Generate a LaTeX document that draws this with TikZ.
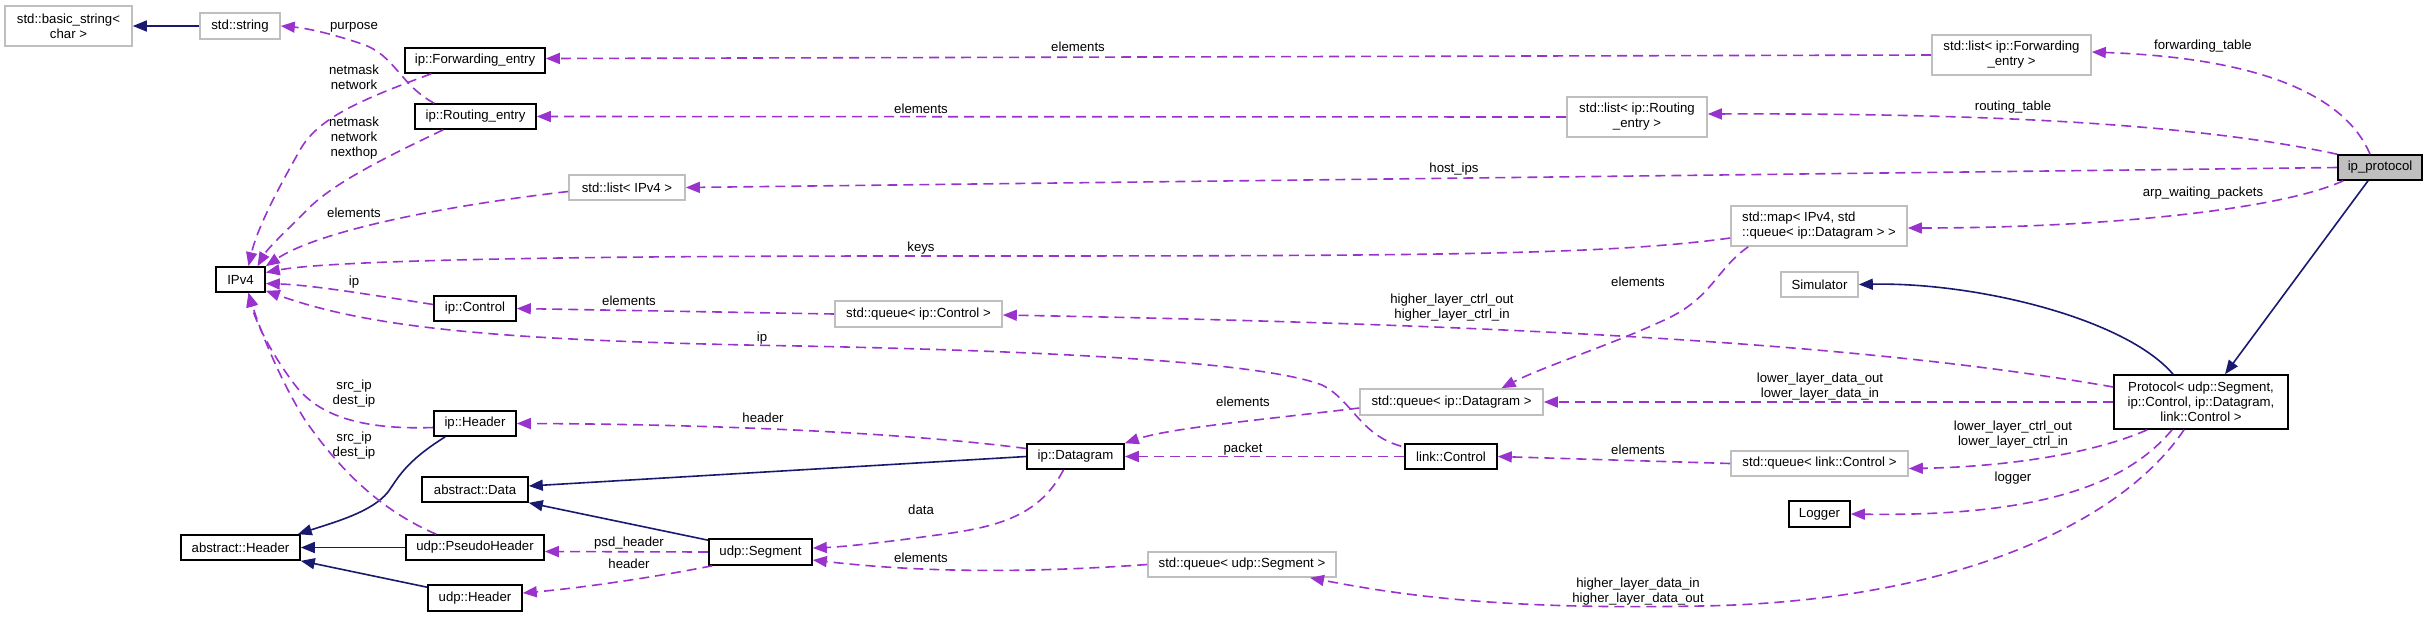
\documentclass[tikz,border=0pt]{standalone}
\usepackage{fontspec}
\setmainfont{Liberation Sans}
\usetikzlibrary{arrows.meta,calc}
\definecolor{edgep}{HTML}{9A32CD}
\definecolor{navyc}{HTML}{191970}
\definecolor{boxg}{HTML}{BFBFBF}
\definecolor{fillg}{HTML}{BFBFBF}
\newcommand\dfont{\fontsize{6.6}{7.5}\selectfont}
\begin{document}
\begin{tikzpicture}[x=0.5pt,y=-0.5pt,
 box/.style={draw=black,line width=0.8pt,fill=white,inner sep=0pt,font=\dfont,align=center},
 gbox/.style={box,draw=boxg},
 col/.style={color=edgep,line width=0.8pt,dash pattern=on 5pt off 3pt,-{Triangle[length=7pt,width=5.5pt]}},
 inh/.style={color=navyc,line width=0.8pt,-{Triangle[length=7pt,width=5.5pt]}},
 lbl/.style={font=\dfont,inner sep=0pt,align=center}]
\path[use as bounding box] (0,0) rectangle (2428,617);

% nodes
\node[gbox,minimum width=63.5pt,minimum height=20pt] (bstr) at (68.5,26) {std::basic\_string<\\char >};
\node[gbox,minimum width=40pt,minimum height=13pt] (str) at (240,26) {std::string};
\node[box,minimum width=70pt,minimum height=12.5pt] (fwd) at (475,60.5) {ip::Forwarding\_entry};
\node[box,minimum width=60.5pt,minimum height=12.5pt] (rte) at (475.5,116.5) {ip::Routing\_entry};
\node[gbox,minimum width=58pt,minimum height=12.5pt] (lipv4) at (627,187.5) {std::list< IPv4 >};
\node[box,minimum width=24.5pt,minimum height=12.5pt] (ipv4) at (240.5,279.5) {IPv4};
\node[box,minimum width=41pt,minimum height=12.5pt] (ipctl) at (475,308.5) {ip::Control};
\node[box,minimum width=41pt,minimum height=12.5pt] (iphdr) at (475,423.5) {ip::Header};
\node[box,minimum width=53pt,minimum height=12.5pt] (adata) at (475,489.5) {abstract::Data};
\node[box,minimum width=59.5pt,minimum height=12.5pt] (ahdr) at (240.5,547.5) {abstract::Header};
\node[box,minimum width=69pt,minimum height=12.5pt] (pshdr) at (475,547.5) {udp::PseudoHeader};
\node[box,minimum width=47pt,minimum height=13pt] (udphdr) at (475,598) {udp::Header};
\node[gbox,minimum width=83.5pt,minimum height=13pt] (qipctl) at (918.5,314) {std::queue< ip::Control >};
\node[gbox,minimum width=91.5pt,minimum height=13pt] (qdg) at (1451.5,402) {std::queue< ip::Datagram >};
\node[box,minimum width=48.5pt,minimum height=12.5pt] (dg) at (1075.5,456.5) {ip::Datagram};
\node[box,minimum width=46pt,minimum height=12.5pt] (lctl) at (1451,456.5) {link::Control};
\node[box,minimum width=51.5pt,minimum height=13pt] (seg) at (760.5,552) {udp::Segment};
\node[gbox,minimum width=94pt,minimum height=12.5pt] (qseg) at (1242,564.5) {std::queue< udp::Segment >};
\node[gbox,minimum width=79.5pt,minimum height=20pt] (lfwd) at (2011.5,55) {std::list< ip::Forwarding\\\_entry >};
\node[gbox,minimum width=70pt,minimum height=20pt] (lrte) at (1637,117) {std::list< ip::Routing\\\_entry >};
\node[box,fill=fillg,minimum width=42pt,minimum height=12.5pt] (ipp) at (2380,167.5) {ip\_protocol};
\node[gbox,align=left,minimum width=88pt,minimum height=20pt] (map) at (1819,226) {std::map< IPv4, std\\::queue< ip::Datagram > >};
\node[gbox,minimum width=38.5pt,minimum height=12.5pt] (sim) at (1819.5,284.5) {Simulator};
\node[box,minimum width=87pt,minimum height=27pt] (proto) at (2201,402) {Protocol< udp::Segment,\\ip::Control, ip::Datagram,\\link::Control >};
\node[gbox,minimum width=88.5pt,minimum height=12.5pt] (qlctl) at (1819.5,463.5) {std::queue< link::Control >};
\node[box,minimum width=30.5pt,minimum height=13pt] (logger) at (1819.5,514) {Logger};

% inheritance
\draw[inh] (str.west) -- (bstr.east);
\draw[inh] ($(ipp.south)+(-12,0)$) -- ($(proto.north)+(24,0)$);
\draw[inh] ($(proto.north)+(-28,0)$) .. controls (2125,318) and (1975,282) .. (sim.east);
\draw[inh] ($(iphdr.south west)+(12,0)$) .. controls (405,462) and (398,478) .. (388,492) .. controls (372,512) and (335,522) .. ($(ahdr.north east)+(-3,0)$);
\draw[inh] (pshdr.west) -- (ahdr.east);
\draw[inh] ($(udphdr.north west)+(0,3)$) -- (ahdr.south east);
\draw[inh] (dg.west) -- ($(adata.east)+(0,-3.5)$);
\draw[inh] ($(seg.north west)+(0,2)$) -- (adata.south east);

% collaboration
\draw[col] ($(rte.north west)+(20,0)$) .. controls (400,85) and (395,55) .. (362,44) .. controls (330,33) and (305,28) .. (str.east);
\draw[col] ($(fwd.south west)+(27,0)$) .. controls (360,100) and (318,118) .. (300,150) .. controls (282,182) and (258,225) .. ($(ipv4.north)+(8,0)$);
\draw[col] ($(rte.south west)+(29,0)$) .. controls (380,160) and (330,185) .. (305,212) .. controls (285,232) and (268,248) .. ($(ipv4.north)+(17,0)$);
\draw[col] ($(lipv4.west)+(0,4)$) .. controls (450,205) and (320,230) .. (ipv4.north east);
\draw[col] ($(map.west)+(0,12)$) .. controls (1600,256) and (1400,256) .. (900,256) .. controls (500,256) and (320,262) .. ($(ipv4.east)+(0,-7)$);
\draw[col] ($(ipctl.west)+(0,-4)$) .. controls (360,293) and (310,285) .. ($(ipv4.east)+(0,4)$);
\draw[col] ($(lctl.north west)+(-3,3)$) .. controls (1360,435) and (1352,400) .. (1322,385) .. controls (1270,365) and (1100,352) .. (800,346) .. controls (500,341) and (370,328) .. ($(ipv4.south east)+(0,-2)$);
\draw[col] ($(iphdr.west)+(0,4)$) .. controls (360,430) and (318,415) .. (295,385) .. controls (270,352) and (255,320) .. ($(ipv4.south)+(8,0)$);
\draw[col] ($(pshdr.north west)+(31,0)$) .. controls (380,510) and (340,470) .. (305,420) .. controls (280,380) and (260,330) .. ($(ipv4.south)+(8,0)$);
\draw[col] (lfwd.west) -- ($(fwd.east)+(0,-2)$);
\draw[col] (lrte.west) -- (rte.east);
\draw[col] ($(ipp.north)+(-10,0)$) .. controls (2345,95) and (2260,58) .. ($(lfwd.east)+(0,-3)$);
\draw[col] (ipp.north west) .. controls (2200,125) and (2000,113) .. ($(lrte.east)+(0,-3)$);
\draw[col] (ipp.west) -- (lipv4.east);
\draw[col] ($(ipp.south west)+(6,0)$) .. controls (2280,210) and (2100,228) .. ($(map.east)+(0,2)$);
\draw[col] ($(map.south west)+(18,0)$) .. controls (1715,270) and (1712,300) .. (1660,322) .. controls (1610,345) and (1540,368) .. ($(qdg.north)+(50,0)$);
\draw[col] (qipctl.west) -- (ipctl.east);
\draw[col] ($(proto.west)+(0,-15)$) .. controls (1900,350) and (1600,326) .. ($(qipctl.east)+(0,1)$);
\draw[col] (proto.west) -- (qdg.east);
\draw[col] ($(dg.west)+(0,-8)$) .. controls (900,432) and (700,424) .. (iphdr.east);
\draw[col] ($(qdg.west)+(0,6)$) .. controls (1260,420) and (1170,428) .. (dg.north east);
\draw[col] (lctl.west) -- (dg.east);
\draw[col] (qlctl.west) -- (lctl.east);
\draw[col] ($(proto.south west)+(34,0)$) .. controls (2090,455) and (2000,467) .. ($(qlctl.east)+(0,5)$);
\draw[col] ($(proto.south)+(-29,0)$) .. controls (2130,480) and (2050,517) .. (logger.east);
\draw[col] ($(proto.south)+(-17,0)$) .. controls (2120,525) and (1950,602) .. (1700,606) .. controls (1500,610) and (1400,595) .. ($(qseg.south)+(68,0)$);
\draw[col] ($(dg.south)+(-12,0)$) .. controls (1040,515) and (1000,527) .. (937,535) .. controls (880,543) and (840,547) .. ($(seg.east)+(0,-4)$);
\draw[col] (qseg.west) .. controls (1000,575) and (900,570) .. ($(seg.east)+(0,8)$);
\draw[col] (seg.west) -- ($(pshdr.east)+(0,4)$);
\draw[col] ($(seg.south west)+(4,0)$) .. controls (650,578) and (580,588) .. ($(udphdr.east)+(0,-5)$);

% labels
\node[lbl] (t1) at (354,27) {purpose};
\node[lbl] (t2) at (354,77) {netmask\\network};
\node[lbl] (t3) at (354,138) {netmask\\network\\nexthop};
\node[lbl] (t4) at (354,213) {elements};
\node[lbl] (t5) at (354,282) {ip};
\node[lbl] (t6) at (629,301) {elements};
\node[lbl] (t7) at (354,393.5) {src\_ip\\dest\_ip};
\node[lbl] (t8) at (354,445.5) {src\_ip\\dest\_ip};
\node[lbl] (t9) at (629,543) {psd\_header};
\node[lbl] (t10) at (629,564) {header};
\node[lbl] (t11) at (1078,47) {elements};
\node[lbl] (t12) at (921,109) {elements};
\node[lbl] (t13) at (1454,169) {host\_ips};
\node[lbl] (t14) at (921,248) {keys};
\node[lbl] (t15) at (1452,307.5) {higher\_layer\_ctrl\_out\\higher\_layer\_ctrl\_in};
\node[lbl] (t16) at (762,338) {ip};
\node[lbl] (t17) at (1243,402) {elements};
\node[lbl] (t18) at (763,418) {header};
\node[lbl] (t19) at (1243,449) {packet};
\node[lbl] (t20) at (921,510) {data};
\node[lbl] (t21) at (921,558) {elements};
\node[lbl] (t22) at (2203,46) {forwarding\_table};
\node[lbl] (t23) at (2013,107) {routing\_table};
\node[lbl] (t24) at (2203,193) {arp\_waiting\_packets};
\node[lbl] (t25) at (1638,282) {elements};
\node[lbl] (t26) at (1820,386.5) {lower\_layer\_data\_out\\lower\_layer\_data\_in};
\node[lbl] (t27) at (2013,434.5) {lower\_layer\_ctrl\_out\\lower\_layer\_ctrl\_in};
\node[lbl] (t28) at (1638,450) {elements};
\node[lbl] (t29) at (2013,478) {logger};
\node[lbl] (t30) at (1638,592) {higher\_layer\_data\_in\\higher\_layer\_data\_out};
\end{tikzpicture}
\end{document}
